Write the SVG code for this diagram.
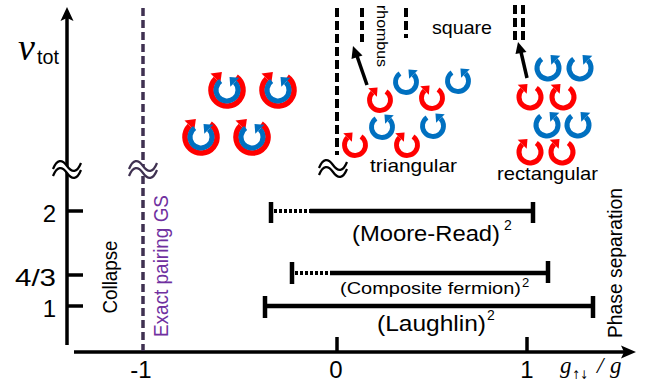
<svg xmlns="http://www.w3.org/2000/svg" xmlns:xlink="http://www.w3.org/1999/xlink" width="654" height="383" viewBox="0 0 654 383">
<style>
  .ax { stroke:#000; stroke-width:3.5; fill:none; }
  .bar { stroke:#000; stroke-width:4.5; fill:none; }
  .dot { stroke:#000; stroke-width:4; stroke-dasharray:3 2; fill:none; }
  .t { font-family:"Liberation Sans", Arial, sans-serif; fill:#000; }
  .pur { fill:#7030a0; }
  .blk-dash { stroke:#000; stroke-width:4; stroke-dasharray:9 4; fill:none; }
</style>
<defs>
  <!-- clockwise open-circle arrow, radius 10 -->
  <g id="cw">
    <path d="M 5.74,-8.19 A 10 10 0 1 1 -7.07,-7.07" fill="none" stroke-width="4.6"/>
    <polygon points="-2.3,-11.8 -11.2,-11.2 -3.0,-3.0" stroke="none"/>
  </g>
  <!-- thinner clockwise arrow for the outer ring of a pair -->
  <g id="cw-thin">
    <path d="M 5.74,-8.19 A 10 10 0 1 1 -7.07,-7.07" fill="none" stroke-width="3.5"/>
    <polygon points="-3.2,-11.2 -10.3,-10.3 -4.2,-4.2" stroke="none"/>
  </g>
  <!-- counter-clockwise counterpart -->
  <g id="ccw" transform="scale(-1,1)">
    <use xlink:href="#cw"/>
  </g>
  <g id="red"><g stroke="#ff0000" fill="#ff0000"><use xlink:href="#cw"/></g></g>
  <g id="red-outer"><g stroke="#ff0000" fill="#ff0000"><use xlink:href="#cw-thin"/></g></g>
  <g id="blue"><g stroke="#0070c0" fill="#0070c0"><use xlink:href="#ccw"/></g></g>
  <!-- axis break mark -->
  <g id="brk">
    <path d="M -14,1 C -10,-9 -5,-9 0,-2 S 10,5 14,-5 L 14,2 C 10,12 5,12 0,5 S -10,-2 -14,8 Z" fill="#fff" stroke="none"/>
    <path d="M -14,1 C -10,-9 -5,-9 0,-2 S 10,5 14,-5 M -14,8 C -10,-2 -5,-2 0,5 S 10,12 14,2" fill="none" stroke-width="2.2"/>
  </g>
</defs>

<!-- axes -->
<g id="axes">
  <line class="ax" x1="67" y1="345" x2="67" y2="18"/>
  <polygon points="67,7 73.5,21 67,18 60.5,21" fill="#000"/>
  <line class="ax" x1="74" y1="352" x2="624" y2="352"/>
  <polygon points="636,352 621,345.5 624,352 621,358.5" fill="#000"/>
  <!-- ticks -->
  <line class="ax" x1="67" y1="211" x2="83" y2="211"/>
  <line class="ax" x1="67" y1="275" x2="83" y2="275"/>
  <line class="ax" x1="67" y1="306" x2="83" y2="306"/>
  <line class="ax" x1="337" y1="352" x2="337" y2="337"/>
  <line class="ax" x1="527" y1="352" x2="527" y2="337"/>
  <g stroke="#000"><use xlink:href="#brk" transform="translate(67,168)"/></g>
</g>

<!-- axis labels -->
<g id="axis-labels">
  <text x="18" y="60" font-family="'Liberation Serif', serif" font-style="italic" font-size="38">ν</text>
  <text class="t" x="37" y="64" font-size="20" textLength="22" lengthAdjust="spacingAndGlyphs">tot</text>
  <text class="t" x="56" y="222" font-size="24" text-anchor="end">2</text>
  <text class="t" x="56" y="286" font-size="24" text-anchor="end" textLength="41" lengthAdjust="spacingAndGlyphs">4/3</text>
  <text class="t" x="56" y="317" font-size="24" text-anchor="end">1</text>
  <text class="t" x="141" y="378" font-size="24" text-anchor="middle">-1</text>
  <text class="t" x="336" y="378" font-size="24" text-anchor="middle">0</text>
  <text class="t" x="527" y="378" font-size="24" text-anchor="middle">1</text>
  <text x="560" y="373" font-family="'Liberation Serif', serif" font-style="italic" font-size="23">g</text>
  <text x="572" y="379" font-family="'DejaVu Sans', sans-serif" font-size="12" textLength="16" lengthAdjust="spacingAndGlyphs">↑↓</text>
  <text x="597" y="373" font-family="'Liberation Serif', serif" font-style="italic" font-size="23">/</text>
  <text x="610" y="373" font-family="'Liberation Serif', serif" font-style="italic" font-size="23">g</text>
</g>

<!-- exact pairing line at -1 -->
<g id="exact-pairing">
  <line x1="143" y1="8" x2="143" y2="351" stroke="#3f3151" stroke-width="3.5" stroke-dasharray="8 4"/>
  <g stroke="#3f3151"><use xlink:href="#brk" transform="translate(143,168)"/></g>
  <text class="t pur" font-size="21" transform="translate(168,266) rotate(-90)" text-anchor="middle" textLength="142" lengthAdjust="spacingAndGlyphs">Exact pairing GS</text>
</g>

<g id="collapse">
  <text class="t" font-size="21" transform="translate(117,277) rotate(-90)" text-anchor="middle" textLength="73" lengthAdjust="spacingAndGlyphs">Collapse</text>
</g>

<g id="phase-separation">
  <text class="t" font-size="21" transform="translate(622,263) rotate(-90)" text-anchor="middle" textLength="150" lengthAdjust="spacingAndGlyphs">Phase separation</text>
</g>

<!-- phase bars -->
<g id="moore-read">
  <line class="bar" x1="271" y1="202" x2="271" y2="223"/>
  <line class="dot" x1="274" y1="211" x2="310" y2="211"/>
  <line class="bar" x1="310" y1="211" x2="533" y2="211"/>
  <line class="bar" x1="533" y1="202" x2="533" y2="223"/>
  <text class="t" x="352" y="241" font-size="22" textLength="148" lengthAdjust="spacingAndGlyphs">(Moore-Read)</text>
  <text class="t" x="504" y="230" font-size="14">2</text>
</g>
<g id="composite-fermion">
  <line class="bar" x1="292" y1="262" x2="292" y2="284"/>
  <line class="dot" x1="295" y1="273" x2="330" y2="273"/>
  <line class="bar" x1="330" y1="273" x2="548" y2="273"/>
  <line class="bar" x1="548" y1="261" x2="548" y2="283"/>
  <text class="t" x="340" y="294" font-size="17" textLength="181" lengthAdjust="spacingAndGlyphs">(Composite fermion)</text>
  <text class="t" x="522" y="287" font-size="13">2</text>
</g>
<g id="laughlin">
  <line class="bar" x1="265" y1="296" x2="265" y2="318"/>
  <line class="bar" x1="265" y1="306" x2="593" y2="306"/>
  <line class="bar" x1="593" y1="296" x2="593" y2="318"/>
  <text class="t" x="377" y="331" font-size="22" textLength="109" lengthAdjust="spacingAndGlyphs">(Laughlin)</text>
  <text class="t" x="487" y="320" font-size="14">2</text>
</g>

<!-- paired vortex lattice -->
<g id="paired-vortices">
  <use xlink:href="#red-outer" transform="translate(227,90) scale(1.6)"/>
  <use xlink:href="#blue" transform="translate(227,90) scale(1.1)"/>
  <use xlink:href="#red-outer" transform="translate(278,90) scale(1.6)"/>
  <use xlink:href="#blue" transform="translate(278,90) scale(1.1)"/>
  <use xlink:href="#red-outer" transform="translate(201,137) scale(1.6)"/>
  <use xlink:href="#blue" transform="translate(201,137) scale(1.1)"/>
  <use xlink:href="#red-outer" transform="translate(252,137) scale(1.6)"/>
  <use xlink:href="#blue" transform="translate(252,137) scale(1.1)"/>
</g>

<!-- lattice transitions -->
<g id="lattice-lines">
  <line class="blk-dash" x1="337" y1="8" x2="337" y2="155"/>
  <g stroke="#000"><use xlink:href="#brk" transform="translate(333,167)"/></g>
  <line class="blk-dash" x1="362" y1="8" x2="362" y2="42"/>
  <line class="blk-dash" x1="406" y1="8" x2="406" y2="38"/>
  <line class="blk-dash" x1="515" y1="5" x2="515" y2="42"/>
  <line class="blk-dash" x1="523" y1="5" x2="523" y2="42"/>
  <text class="t" font-size="14" transform="translate(377,36) rotate(90)" text-anchor="middle" textLength="62" lengthAdjust="spacingAndGlyphs">rhombus</text>
  <text class="t" x="432" y="34" font-size="19" textLength="60" lengthAdjust="spacingAndGlyphs">square</text>
</g>

<g id="connectors">
  <line x1="367" y1="85" x2="357" y2="56" stroke="#000" stroke-width="3.5"/>
  <polygon points="353,46 351.5,59 362.5,55.5" fill="#000"/>
  <line x1="527" y1="78" x2="521" y2="52" stroke="#000" stroke-width="3.5"/>
  <polygon points="518,42 515.5,54 526.5,52" fill="#000"/>
</g>

<g id="triangular">
  <use xlink:href="#blue" transform="translate(406,82) scale(1.05)"/>
  <use xlink:href="#blue" transform="translate(458,81) scale(1.05)"/>
  <use xlink:href="#blue" transform="translate(382,127) scale(1.05)"/>
  <use xlink:href="#blue" transform="translate(433,126) scale(1.05)"/>
  <use xlink:href="#red" transform="translate(380,100) scale(1.05)"/>
  <use xlink:href="#red" transform="translate(432,98) scale(1.05)"/>
  <use xlink:href="#red" transform="translate(355,145) scale(1.05)"/>
  <use xlink:href="#red" transform="translate(407,145) scale(1.05)"/>
  <text class="t" x="370" y="172" font-size="19" textLength="87" lengthAdjust="spacingAndGlyphs">triangular</text>
</g>

<g id="rectangular">
  <use xlink:href="#blue" transform="translate(548,68) scale(1.1)"/>
  <use xlink:href="#blue" transform="translate(580,68) scale(1.1)"/>
  <use xlink:href="#blue" transform="translate(547,125) scale(1.1)"/>
  <use xlink:href="#blue" transform="translate(578,125) scale(1.1)"/>
  <use xlink:href="#red" transform="translate(530,97) scale(1.1)"/>
  <use xlink:href="#red" transform="translate(563,97) scale(1.1)"/>
  <use xlink:href="#red" transform="translate(530,152) scale(1.1)"/>
  <use xlink:href="#red" transform="translate(562,152) scale(1.1)"/>
  <text class="t" x="497" y="180" font-size="19" textLength="101" lengthAdjust="spacingAndGlyphs">rectangular</text>
</g>
</svg>
